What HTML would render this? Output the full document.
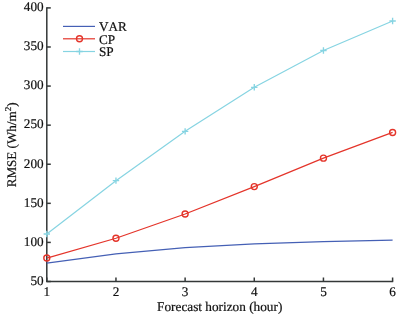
<!DOCTYPE html>
<html><head><meta charset="utf-8"><style>
html,body{margin:0;padding:0;background:#fff;}
body{width:398px;height:315px;overflow:hidden;}
svg{display:block;text-rendering:geometricPrecision;font-family:"Liberation Serif", "Times New Roman", serif;font-size:13.2px;fill:#111;}
text{stroke:#111;stroke-width:0.2px;font-kerning:none;}
</style></head><body>

<svg width="398" height="315" viewBox="0 0 398 315">
<rect width="398" height="315" fill="#fff"/>
<path d="M46.8 7.300000000000001V281.5H393.2" stroke="#343838" stroke-width="1.5" fill="none"/>
<path d="M46.8 281.50H50.8" stroke="#343838" stroke-width="1.5"/>
<text x="43.6" y="284.80" text-anchor="end">50</text>
<path d="M46.8 242.41H50.8" stroke="#343838" stroke-width="1.5"/>
<text x="43.6" y="245.71" text-anchor="end">100</text>
<path d="M46.8 203.33H50.8" stroke="#343838" stroke-width="1.5"/>
<text x="43.6" y="206.63" text-anchor="end">150</text>
<path d="M46.8 164.24H50.8" stroke="#343838" stroke-width="1.5"/>
<text x="43.6" y="167.54" text-anchor="end">200</text>
<path d="M46.8 125.16H50.8" stroke="#343838" stroke-width="1.5"/>
<text x="43.6" y="128.46" text-anchor="end">250</text>
<path d="M46.8 86.07H50.8" stroke="#343838" stroke-width="1.5"/>
<text x="43.6" y="89.37" text-anchor="end">300</text>
<path d="M46.8 46.99H50.8" stroke="#343838" stroke-width="1.5"/>
<text x="43.6" y="50.29" text-anchor="end">350</text>
<path d="M46.8 7.90H50.8" stroke="#343838" stroke-width="1.5"/>
<text x="43.6" y="11.20" text-anchor="end">400</text>
<path d="M46.80 281.5V277.5" stroke="#343838" stroke-width="1.5"/>
<text x="46.80" y="295.5" text-anchor="middle">1</text>
<path d="M115.96 281.5V277.5" stroke="#343838" stroke-width="1.5"/>
<text x="115.96" y="295.5" text-anchor="middle">2</text>
<path d="M185.12 281.5V277.5" stroke="#343838" stroke-width="1.5"/>
<text x="185.12" y="295.5" text-anchor="middle">3</text>
<path d="M254.28 281.5V277.5" stroke="#343838" stroke-width="1.5"/>
<text x="254.28" y="295.5" text-anchor="middle">4</text>
<path d="M323.44 281.5V277.5" stroke="#343838" stroke-width="1.5"/>
<text x="323.44" y="295.5" text-anchor="middle">5</text>
<path d="M392.60 281.5V277.5" stroke="#343838" stroke-width="1.5"/>
<text x="392.60" y="295.5" text-anchor="middle">6</text>
<text x="219.7" y="311" text-anchor="middle" font-size="13.28">Forecast horizon (hour)</text>
<text transform="translate(15.8 144.9) rotate(-90)" text-anchor="middle" font-size="13.1">RMSE (Wh/m<tspan font-size="9" dy="-5">2</tspan><tspan dy="5">)</tspan></text>
<polyline points="46.80,263.13 115.96,253.83 185.12,247.57 254.28,243.90 323.44,241.55 392.60,240.15" fill="none" stroke="#4560b5" stroke-width="1.2"/>
<polyline points="46.80,258.05 115.96,238.27 185.12,213.96 254.28,186.60 323.44,158.15 392.60,132.43" fill="none" stroke="#e4342a" stroke-width="1.2"/>
<circle cx="46.80" cy="258.05" r="3.0" fill="none" stroke="#e4342a" stroke-width="1.4"/>
<circle cx="115.96" cy="238.27" r="3.0" fill="none" stroke="#e4342a" stroke-width="1.4"/>
<circle cx="185.12" cy="213.96" r="3.0" fill="none" stroke="#e4342a" stroke-width="1.4"/>
<circle cx="254.28" cy="186.60" r="3.0" fill="none" stroke="#e4342a" stroke-width="1.4"/>
<circle cx="323.44" cy="158.15" r="3.0" fill="none" stroke="#e4342a" stroke-width="1.4"/>
<circle cx="392.60" cy="132.43" r="3.0" fill="none" stroke="#e4342a" stroke-width="1.4"/>
<polyline points="46.80,233.97 115.96,180.66 185.12,131.33 254.28,87.32 323.44,50.50 392.60,21.03" fill="none" stroke="#86d4e2" stroke-width="1.2"/>
<path d="M43.60 233.97H50.00M46.80 230.77V237.17" stroke="#86d4e2" stroke-width="1.35" fill="none"/>
<path d="M112.76 180.66H119.16M115.96 177.46V183.86" stroke="#86d4e2" stroke-width="1.35" fill="none"/>
<path d="M181.92 131.33H188.32M185.12 128.13V134.53" stroke="#86d4e2" stroke-width="1.35" fill="none"/>
<path d="M251.08 87.32H257.48M254.28 84.12V90.52" stroke="#86d4e2" stroke-width="1.35" fill="none"/>
<path d="M320.24 50.50H326.64M323.44 47.30V53.70" stroke="#86d4e2" stroke-width="1.35" fill="none"/>
<path d="M389.40 21.03H395.80M392.60 17.83V24.23" stroke="#86d4e2" stroke-width="1.35" fill="none"/>
<path d="M63 26.4H95" stroke="#4560b5" stroke-width="1.2"/>
<text x="98.9" y="31.10">VAR</text>
<path d="M63 38.8H95" stroke="#e4342a" stroke-width="1.2"/>
<circle cx="79.50" cy="38.80" r="3.0" fill="none" stroke="#e4342a" stroke-width="1.4"/>
<text x="98.9" y="43.50">CP</text>
<path d="M63 51.5H95" stroke="#86d4e2" stroke-width="1.2"/>
<path d="M76.30 51.50H82.70M79.50 48.30V54.70" stroke="#86d4e2" stroke-width="1.35" fill="none"/>
<text x="98.9" y="56.20">SP</text>
</svg>
</body></html>
